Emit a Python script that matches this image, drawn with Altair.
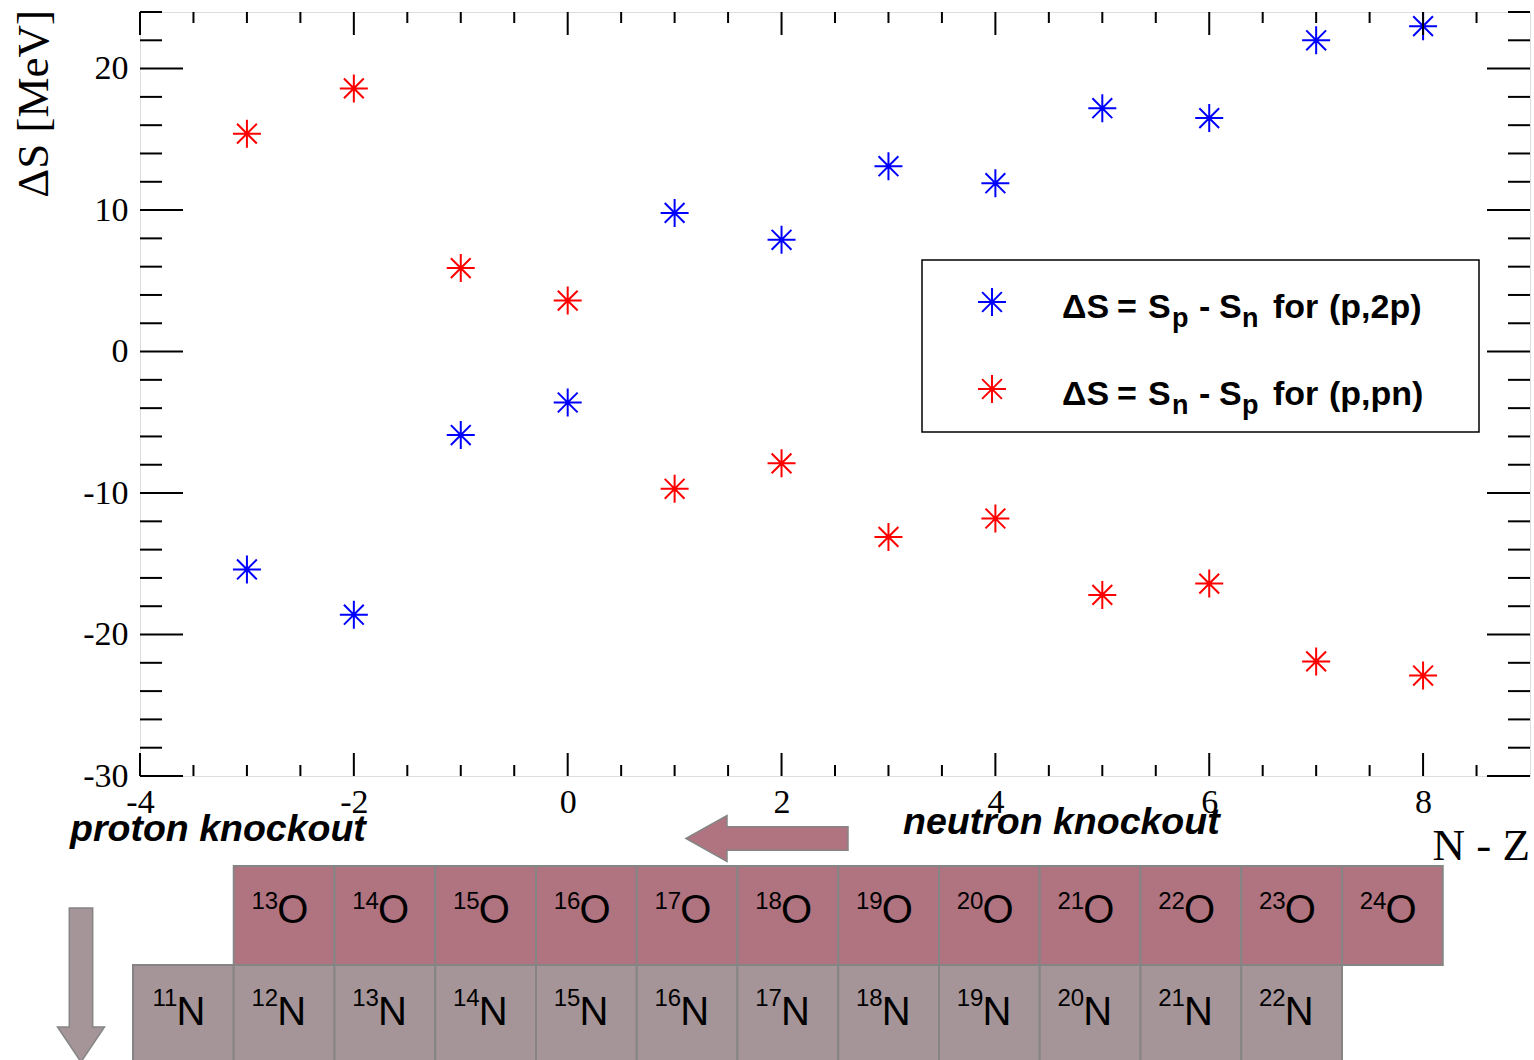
import altair as alt
import pandas as pd

# ---- measured separation-energy differences -------------------------------
n_minus_z = [-3, -2, -1, 0, 1, 2, 3, 4, 5, 6, 7, 8]
# ΔS = Sp - Sn, (p,2p)
ds_p2p = [-15.4, -18.6, -5.9, -3.6, 9.8, 7.9, 13.1, 11.9, 17.2, 16.5, 22.0, 23.0]
# ΔS = Sn - Sp, (p,pn)
ds_ppn = [15.4, 18.6, 5.9, 3.6, -9.7, -7.9, -13.1, -11.8, -17.2, -16.4, -21.9, -22.9]

x_major = [-4, -2, 0, 2, 4, 6, 8]
x_minor = [v / 2 for v in range(-7, 18) if v % 4 != 0]
y_major = [-30, -20, -10, 0, 10, 20]
y_minor = [v for v in range(-28, 25, 2) if v % 10 != 0]

# ---- nuclide chart strip (mass numbers) ------------------------------------
oxygen_A = [13, 14, 15, 16, 17, 18, 19, 20, 21, 22, 23, 24]
nitrogen_A = [11, 12, 13, 14, 15, 16, 17, 18, 19, 20, 21, 22]

W, H = 1390, 764
BLUE, RED = "#0000ff", "#ff0000"
O_FILL, N_FILL, EDGE = "#b07380", "#a59599", "#858585"
SERIF = "Liberation Serif"
SANS = "Liberation Sans"

STAR = ("M -1 0 L 1 0 M 0 -1 L 0 1 "
        "M -0.707 -0.707 L 0.707 0.707 M -0.707 0.707 L 0.707 -0.707")
ARROW_LEFT = ("M -1 0 L -0.494 -0.284 L -0.494 -0.144 L 1 -0.144 "
              "L 1 0.144 L -0.494 0.144 L -0.494 0.284 Z")
ARROW_DOWN = ("M 0 1 L -0.305 0.545 L -0.152 0.545 L -0.152 -1 "
              "L 0.152 -1 L 0.152 0.545 L 0.305 0.545 Z")

xs = alt.Scale(domain=[-4, 9], nice=False, zero=False)
ys = alt.Scale(domain=[-30, 24], nice=False, zero=False)
axis_style = dict(title=None, ticks=False, domain=False, grid=False,
                  labelFont=SERIF, labelFontSize=34, labelColor="black",
                  labelFlush=False, labelOverlap=False,
                  labelExpr="'' + datum.value")
x_axis = alt.Axis(values=x_major, labelPadding=9, **axis_style)
y_axis = alt.Axis(values=y_major, labelPadding=12, **axis_style)


def X(field="x"):
    return alt.X(f"{field}:Q", scale=xs, axis=x_axis)


def Y(field="y"):
    return alt.Y(f"{field}:Q", scale=ys, axis=y_axis)


def one():
    return pd.DataFrame({"k": [0]})


# ---- data points -----------------------------------------------------------
pts = pd.DataFrame({
    "x": n_minus_z * 2,
    "y": ds_p2p + ds_ppn,
    "series": ["p2p"] * len(n_minus_z) + ["ppn"] * len(n_minus_z),
})
points = alt.Chart(pts).mark_point(
    shape=STAR, size=784, filled=False, strokeWidth=2, opacity=1
).encode(
    x=X(), y=Y(),
    color=alt.Color("series:N", scale=alt.Scale(domain=["p2p", "ppn"], range=[BLUE, RED]),
                    legend=None),
)

# ---- inward ticks on all four sides ----------------------------------------
def xticks(vals, length, top):
    d = pd.DataFrame({"x": vals})
    y0 = 0 if top else H
    y1 = length if top else H - length
    return alt.Chart(d).mark_rule(color="black", strokeWidth=2).encode(
        x=X(), y=alt.value(y0), y2=alt.value(y1))


def yticks(vals, length, right):
    d = pd.DataFrame({"y": vals})
    x0 = W if right else 0
    x1 = W - length if right else length
    return alt.Chart(d).mark_rule(color="black", strokeWidth=2).encode(
        y=Y(), x=alt.value(x0), x2=alt.value(x1))


ticks = [
    xticks(x_major, 23, False), xticks(x_minor, 11, False),
    xticks(x_major, 23, True), xticks(x_minor, 11, True),
    yticks(y_major, 43, False), yticks(y_minor, 22, False),
    yticks(y_major, 43, True), yticks(y_minor, 22, True),
]


# ---- free text helper --------------------------------------------------------
def label(text, x, y, size, font=SANS, weight="normal", style="normal",
          align="left", baseline="alphabetic", angle=0):
    kw = dict(text=text, font=font, fontSize=size, fontWeight=weight,
              fontStyle=style, align=align, baseline=baseline, color="black")
    if angle:
        kw["angle"] = angle
    return alt.Chart(one()).mark_text(**kw).encode(x=alt.value(x), y=alt.value(y))


titles = [
    label("ΔS [MeV]", -92, -2, 45, font=SERIF, align="right", angle=270),
    label("N - Z", 1390, 848, 45, font=SERIF, align="right"),
    label("proton knockout", -70, 829, 37.5, weight="bold", style="italic"),
    label("neutron knockout", 763, 822, 37.5, weight="bold", style="italic"),
]

# ---- legend ------------------------------------------------------------------
legend_box = alt.Chart(one()).mark_rect(fill="white", stroke="black", strokeWidth=1.5).encode(
    x=alt.value(782), x2=alt.value(1339), y=alt.value(248), y2=alt.value(420))


def legend_star(color, y):
    return alt.Chart(one()).mark_point(
        shape=STAR, size=784, filled=False, strokeWidth=2, opacity=1, color=color
    ).encode(x=alt.value(852), y=alt.value(y))


def legend_line(y, sub1, sub2, reaction):
    big, small = 34, 27
    pieces = [
        ("ΔS", 922, 0, big), ("=", 977, 0, big), ("S", 1008, 0, big),
        (sub1, 1032, 9, small), ("-", 1059, 0, big), ("S", 1079, 0, big),
        (sub2, 1102, 9, small), ("for", 1133, 0, big), (reaction, 1189, 0, big),
    ]
    return [label(t, x, y + d, s, weight="bold") for t, x, d, s in pieces]


legend = [legend_box, legend_star(BLUE, 290), legend_star(RED, 377)]
legend += legend_line(306, "p", "n", "(p,2p)")
legend += legend_line(393, "n", "p", "(p,pn)")

# ---- knockout arrows -----------------------------------------------------------
arrows = [
    alt.Chart(one()).mark_point(shape=ARROW_LEFT, size=162 ** 2, filled=True, opacity=1,
                                fill=O_FILL, stroke=EDGE, strokeWidth=1.5
                                ).encode(x=alt.value(627), y=alt.value(826.5)),
    alt.Chart(one()).mark_point(shape=ARROW_DOWN, size=154 ** 2, filled=True, opacity=1,
                                fill=N_FILL, stroke=EDGE, strokeWidth=1.5
                                ).encode(x=alt.value(-59), y=alt.value(973)),
]

main = alt.layer(points, *ticks, *titles, *legend, *arrows)

# ---- nuclide strip: columns = neutron number, rows = proton number -------------
nuc = pd.DataFrame({
    "A": oxygen_A + nitrogen_A,
    "Z": [8] * len(oxygen_A) + [7] * len(nitrogen_A),
    "sym": ["O"] * len(oxygen_A) + ["N"] * len(nitrogen_A),
})
nuc["N"] = nuc["A"] - nuc["Z"]

nx = alt.Scale(domain=[4, 17], range=[-7, 1302.75], nice=False, zero=False)
ny = alt.Scale(domain=[6.5, 8.5], range=[1052, 854], nice=False, zero=False)

base = alt.Chart(nuc).transform_calculate(
    n_hi="datum.N + 1", n_mid="datum.N + 0.5",
    z_lo="datum.Z - 0.5", z_hi="datum.Z + 0.5",
    mass="'' + datum.A",
)
cells = base.mark_rect(stroke=EDGE, strokeWidth=2).encode(
    x=alt.X("N:Q", scale=nx, axis=None), x2="n_hi:Q",
    y=alt.Y("z_hi:Q", scale=ny, axis=None), y2="z_lo:Q",
    fill=alt.Fill("sym:N", scale=alt.Scale(domain=["O", "N"], range=[O_FILL, N_FILL]),
                  legend=None),
)


def cell_text(sym, field, size, align, dx, dy):
    return base.transform_filter(f"datum.sym == '{sym}'").mark_text(
        font=SANS, fontSize=size, align=align, baseline="alphabetic",
        dx=dx, dy=dy, color="black"
    ).encode(
        x=alt.X("n_mid:Q", scale=nx, axis=None),
        y=alt.Y("Z:Q", scale=ny, axis=None),
        text=f"{field}:N",
    )


strip = alt.layer(
    cells,
    cell_text("O", "mass", 24, "right", -6, -6.5),
    cell_text("O", "sym", 40, "left", -7, 7.5),
    cell_text("N", "mass", 24, "right", -6, -8.5),
    cell_text("N", "sym", 40, "left", -7, 10.5),
)

chart = alt.layer(main, strip).resolve_scale(
    x="independent", y="independent", color="independent", fill="independent"
).properties(
    width=W, height=H,
    padding={"left": 140, "top": 12, "right": 4, "bottom": 284},
    autosize=alt.AutoSizeParams(type="none"),
).configure_view(
    stroke="black", strokeWidth=2
).configure(background="white")

chart.save("out.html", embed_options={"renderer": "svg", "actions": False})
